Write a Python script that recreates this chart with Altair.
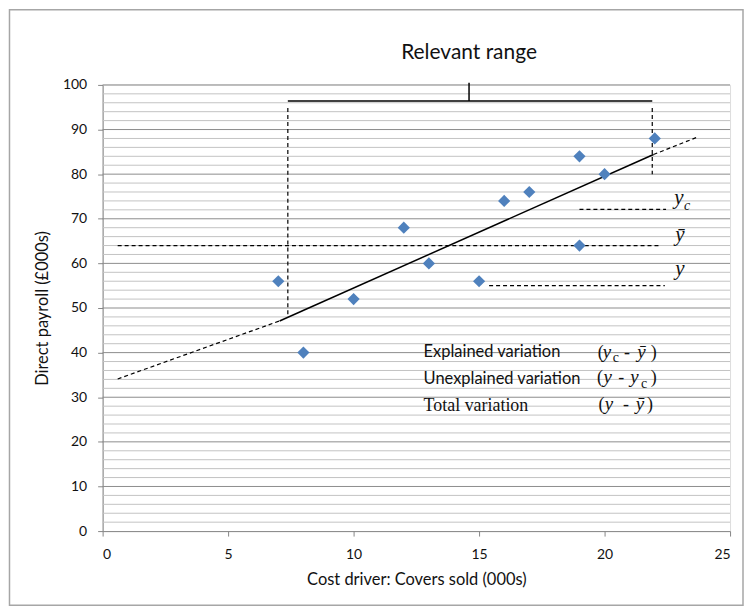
import altair as alt
import pandas as pd

# ---- data ----
cover_x = [7, 8, 10, 12, 13, 15, 16, 17, 19, 19, 20, 22]
payroll_y = [56, 40, 52, 68, 60, 56, 74, 76, 84, 64, 80, 88]

x_ticks = [0, 5, 10, 15, 20, 25]
y_ticks = [0, 10, 20, 30, 40, 50, 60, 70, 80, 90, 100]
major_grid = [10, 20, 30, 40, 50, 60, 70, 80, 90, 100]
minor_grid = [v for v in range(2, 100, 2) if v % 10 != 0]

# solid segments: regression line, relevant-range bracket, centre tick
solid_x1 = [7.05, 7.38, 14.6]
solid_y1 = [47.1, 96.4, 96.4]
solid_x2 = [21.95, 21.9, 14.6]
solid_y2 = [84.4, 96.4, 100.5]

# dashed segments: trend extensions, range verticals, y-bar, yc, y
dash_x1 = [0.6, 21.95, 7.38, 21.9, 0.6, 19.0, 15.4]
dash_y1 = [34.1, 84.4, 94.8, 94.8, 64.0, 72.1, 55.0]
dash_x2 = [7.05, 23.7, 7.38, 21.9, 22.25, 22.45, 22.4]
dash_y2 = [47.1, 88.3, 48.6, 80.0, 64.0, 72.1, 55.0]

# annotation texts
sans_text = ["Explained variation", "Unexplained variation"]
sans_x = [12.79, 12.79]
sans_y = [39.0, 32.9]

serif_text = ["Total variation", "(", "-", ")", "(", "-", ")", "(", "-", ")"]
serif_x = [12.79, 19.73, 20.77, 21.84, 19.70, 20.55, 21.84, 19.76, 20.73, 21.69]
serif_y = [26.9, 38.9, 38.9, 38.9, 33.1, 33.1, 33.1, 27.2, 27.2, 27.2]
serif_size = [18, 18, 18, 18, 18, 18, 18, 18, 18, 18]

ital_text = ["y", "\u0233", "y", "y", "\u0233", "y", "y", "y", "\u0233"]
ital_x = [22.78, 22.82, 22.82, 19.93, 21.30, 19.96, 21.02, 20.01, 21.24]
ital_y = [73.2, 65.1, 57.5, 38.9, 38.9, 33.1, 33.1, 27.2, 27.2]
ital_size = [21, 21, 21, 19, 19, 19, 19, 19, 19]

sub_text = ["c", "c", "c"]
sub_x = [23.16, 20.33, 21.45]
sub_y = [72.0, 37.9, 32.1]
sub_style = ["italic", "normal", "normal"]

title_text = ["Relevant range"]
title_x = [14.6]
title_y = [107.1]

# ---- tables ----
pts = pd.DataFrame({"x": cover_x, "y": payroll_y})
solid = pd.DataFrame({"x": solid_x1, "y": solid_y1, "x2": solid_x2, "y2": solid_y2})
dashed = pd.DataFrame({"x": dash_x1, "y": dash_y1, "x2": dash_x2, "y2": dash_y2})
major = pd.DataFrame({"y": major_grid})
minor = pd.DataFrame({"y": minor_grid})
sans = pd.DataFrame({"x": sans_x, "y": sans_y, "t": sans_text})
serif = pd.DataFrame({"x": serif_x, "y": serif_y, "t": serif_text, "s": serif_size})
ital = pd.DataFrame({"x": ital_x, "y": ital_y, "t": ital_text, "s": ital_size})
sub = pd.DataFrame({"x": sub_x, "y": sub_y, "t": sub_text, "st": sub_style})
ttl = pd.DataFrame({"x": title_x, "y": title_y, "t": title_text})
frame = pd.DataFrame({"a": [0]})

xs = alt.Scale(domain=[0, 25], nice=False, zero=False)
ys = alt.Scale(domain=[0, 100], nice=False, zero=False)

AX = "#868686"
XT = "Cost driver: Covers sold (000s)"
YT = "Direct payroll (\u00a3000s)"

x_axis = alt.Axis(values=x_ticks, grid=False, domainColor=AX, tickColor=AX, tickSize=5,
                  labelFont="Lato", labelFontSize=14, labelColor="#111", labelPadding=12,
                  titleFont="Lato", titleFontSize=16.5,
                  titleFontWeight="normal", titleColor="#111", titlePadding=10)
y_axis = alt.Axis(values=y_ticks, grid=False, domainColor=AX, tickColor=AX, tickSize=5,
                  labelFont="Lato", labelFontSize=14, labelColor="#111", labelPadding=11,
                  titleFont="Lato", titleFontSize=16.5,
                  titleFontWeight="normal", titleColor="#111", titlePadding=12)


def X(f="x:Q"):
    return alt.X(f, scale=xs, axis=x_axis, title=XT)


def Y(f="y:Q"):
    return alt.Y(f, scale=ys, axis=y_axis, title=YT)


minor_l = alt.Chart(minor).mark_rule(color="#c3c3c3", strokeWidth=1).encode(y=Y())
major_l = alt.Chart(major).mark_rule(color="#8c8c8c", strokeWidth=1).encode(y=Y())

dash_l = alt.Chart(dashed).mark_rule(color="black", strokeWidth=1.2, strokeDash=[4, 3]).encode(
    x=X(), y=Y(), x2="x2:Q", y2="y2:Q")
solid_l = alt.Chart(solid).mark_rule(color="black", strokeWidth=1.5).encode(
    x=X(), y=Y(), x2="x2:Q", y2="y2:Q")

pts_l = alt.Chart(pts).mark_point(shape="diamond", filled=True, color="#4F81BD",
                                  size=150, opacity=1).encode(x=X(), y=Y())

sans_l = alt.Chart(sans).mark_text(font="Lato", fontSize=16.5, align="left",
                                   baseline="alphabetic", color="#111").encode(
    x=X(), y=Y(), text="t:N")
serif_l = alt.Chart(serif).mark_text(font="Liberation Serif", align="left",
                                     baseline="alphabetic", color="#111").encode(
    x=X(), y=Y(), text="t:N", size=alt.Size("s:Q", scale=None, legend=None))
ital_l = alt.Chart(ital).mark_text(font="Liberation Serif", fontStyle="italic",
                                   align="left", baseline="alphabetic", color="#111").encode(
    x=X(), y=Y(), text="t:N", size=alt.Size("s:Q", scale=None, legend=None))
sub_it = alt.Chart(sub).transform_filter(alt.datum.st == "italic").mark_text(
    font="Liberation Serif", fontStyle="italic", fontSize=14,
    align="left", baseline="alphabetic", color="#111").encode(x=X(), y=Y(), text="t:N")
sub_up = alt.Chart(sub).transform_filter(alt.datum.st == "normal").mark_text(
    font="Liberation Serif", fontSize=14,
    align="left", baseline="alphabetic", color="#111").encode(x=X(), y=Y(), text="t:N")
title_l = alt.Chart(ttl).mark_text(font="Lato", fontSize=21, align="center",
                                   baseline="middle", color="#111").encode(
    x=X(), y=Y(), text="t:N")

frame_l = alt.Chart(frame).mark_rect(filled=False, stroke="#a6a6a6", strokeWidth=1.5).encode(
    x=alt.value(-93.5), x2=alt.value(643), y=alt.value(-75.5), y2=alt.value(522.5))

chart = alt.layer(minor_l, major_l, frame_l, dash_l, solid_l, sans_l, serif_l, ital_l,
                  sub_it, sub_up, title_l, pts_l).properties(
    width=630, height=448,
    autosize=alt.AutoSizeParams(type="none"),
    padding={"left": 95, "top": 76, "right": 14, "bottom": 78},
).configure_view(stroke=None).configure(background="white")

chart.save("out.html", embed_options={"renderer": "svg", "actions": False})
